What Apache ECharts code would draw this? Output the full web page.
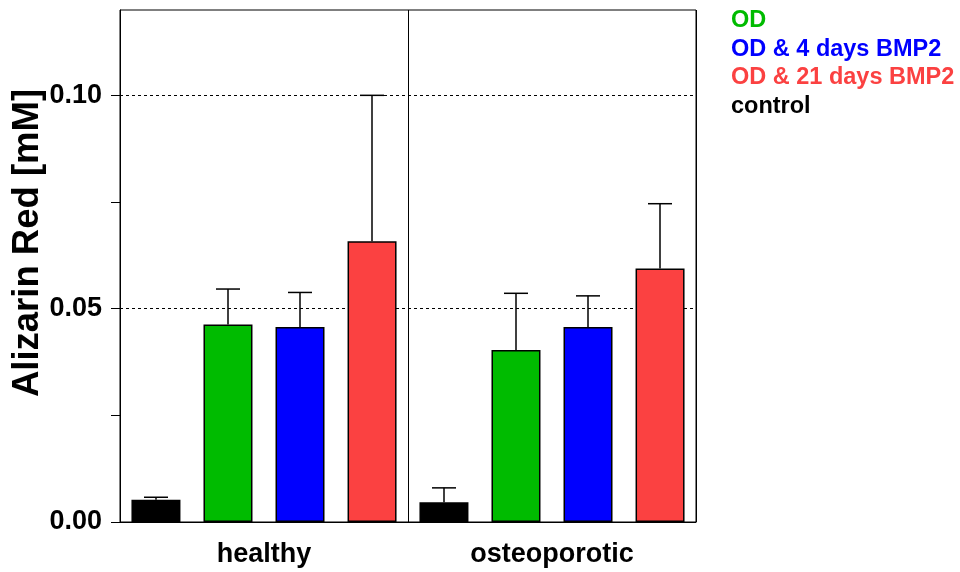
<!DOCTYPE html>
<html><head><meta charset="utf-8">
<script src="https://cdn.jsdelivr.net/npm/echarts@6/dist/echarts.min.js"></script>
<style>html,body{margin:0;padding:0;background:#fff}#chart{width:960px;height:572px}</style>
</head><body><div id="chart"></div>
<script>
// Alizarin Red staining, healthy vs osteoporotic donors
const groups = ['healthy', 'osteoporotic'];
const treatments = ['control', 'OD', 'OD & 4 days BMP2', 'OD & 21 days BMP2'];
const legendOrder = ['OD', 'OD & 4 days BMP2', 'OD & 21 days BMP2', 'control'];
const colors = ['#000000', '#00bb00', '#0000ff', '#fb4141'];

// means per group (healthy, osteoporotic), mM
const controlMean = [0.0052, 0.0046];
const odMean = [0.0463, 0.0403];
const od4Mean = [0.0457, 0.0457];
const od21Mean = [0.0658, 0.0594];

// standard deviations (upper error bars)
const controlSd = [0.0006, 0.0034];
const odSd = [0.0083, 0.0133];
const od4Sd = [0.0081, 0.0073];
const od21Sd = [0.0342, 0.0152];

const yLabelTicks = [0, 0.05, 0.10];
const yAllTicks = [0, 0.025, 0.05, 0.075, 0.10];
const refLines = [0.05, 0.10];

const means = [controlMean, odMean, od4Mean, od21Mean];
const sds = [controlSd, odSd, od4Sd, od21Sd];
const FONT = 'Liberation Sans, Arial, sans-serif';

const chart = echarts.init(document.getElementById('chart'), null, {renderer: 'canvas'});

const series = [];
treatments.forEach((name, k) => {
  const bar = {
    name: name,
    type: 'bar',
    data: means[k],
    barWidth: 49,
    barGap: '47%',
    itemStyle: {color: colors[k], borderColor: '#000', borderWidth: 1.5},
    emphasis: {disabled: true},
    z: 2
  };
  if (k === 0) {
    bar.markLine = {
      silent: true,
      symbol: 'none',
      z: 1,
      label: {show: false},
      lineStyle: {type: [3, 3], color: '#000', width: 1},
      data: refLines.map(v => ({yAxis: v}))
    };
  }
  series.push(bar);
  // upper error bar for each group
  series.push({
    name: name,
    type: 'custom',
    z: 3,
    silent: true,
    data: groups.map((g, i) => [i, means[k][i], means[k][i] + sds[k][i]]),
    renderItem: function (params, api) {
      const band = api.size([1, 0])[0];
      const slot = band / treatments.length;
      const base = api.coord([api.value(0), api.value(1)]);
      const top = api.coord([api.value(0), api.value(2)]);
      const x = base[0] + (k - (treatments.length - 1) / 2) * slot;
      const cap = slot / 3;
      const style = {stroke: '#000', lineWidth: 1.5};
      return {
        type: 'group',
        children: [
          {type: 'line', shape: {x1: x, y1: base[1], x2: x, y2: top[1]}, style: style},
          {type: 'line', shape: {x1: x - cap / 2, y1: top[1], x2: x + cap / 2, y2: top[1]}, style: style}
        ]
      };
    }
  });
});

chart.setOption({
  animation: false,
  backgroundColor: '#fff',
  grid: {
    left: 120, right: 264, top: 10, bottom: 50,
    outerBoundsMode: 'none', containLabel: false,
    show: true, borderColor: '#000', borderWidth: 1
  },
  legend: {
    orient: 'vertical',
    left: 720,
    top: 4,
    itemWidth: 0,
    itemHeight: 0,
    itemGap: 4.5,
    selectedMode: false,
    data: legendOrder.map(n => ({
      name: n,
      icon: 'rect',
      textStyle: {color: colors[treatments.indexOf(n)], fontFamily: FONT, fontWeight: 'bold', fontSize: 23.5, lineHeight: 23}
    }))
  },
  xAxis: {
    type: 'category',
    data: groups,
    axisLine: {lineStyle: {color: '#000', width: 1}},
    axisTick: {show: false},
    splitLine: {show: true, lineStyle: {color: '#000', width: 1}},
    axisLabel: {color: '#000', fontFamily: FONT, fontWeight: 'bold', fontSize: 27, margin: 19}
  },
  yAxis: {
    type: 'value',
    min: 0,
    max: 0.12,
    name: 'Alizarin Red [mM]',
    nameLocation: 'middle',
    nameGap: 74,
    nameMoveOverlap: false,
    nameTextStyle: {color: '#000', fontFamily: FONT, fontWeight: 'bold', fontSize: 36.5, padding: [0, 0, 0, 46]},
    axisLine: {show: true, lineStyle: {color: '#000', width: 1}},
    axisTick: {show: true, length: 9, lineStyle: {color: '#000'}, customValues: yAllTicks},
    splitLine: {show: false},
    axisLabel: {
      color: '#000', fontFamily: FONT, fontWeight: 'bold', fontSize: 27, margin: 18,
      customValues: yLabelTicks,
      formatter: v => v.toFixed(2)
    }
  },
  series: series
});
</script>
</body></html>
